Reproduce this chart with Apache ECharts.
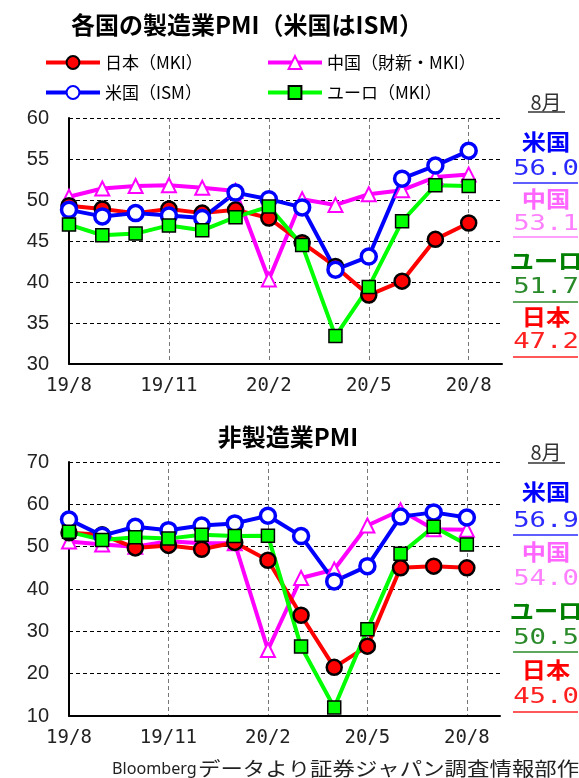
<!DOCTYPE html>
<html>
<head>
<meta charset="utf-8">
<script src="https://cdn.jsdelivr.net/npm/echarts@6/dist/echarts.min.js"></script>
<style>
html,body{margin:0;padding:0;background:#fff;}
#chart{width:579px;height:778px;}
</style>
</head>
<body>
<div id="chart"></div>
<script>
// ---- data ----
const months = ['19/8','19/9','19/10','19/11','19/12','20/1','20/2','20/3','20/4','20/5','20/6','20/7','20/8',''];
const mfgTicks = [30, 35, 40, 45, 50, 55, 60];
const svcTicks = [10, 20, 30, 40, 50, 60, 70];

const seriesNames = ['日本（MKI）', '中国（財新・MKI）', '米国（ISM）', 'ユーロ（MKI）'];

// Manufacturing PMI
const japanMfg = [49.3, 48.9, 48.4, 48.9, 48.4, 48.8, 47.8, 44.8, 41.9, 38.4, 40.1, 45.2, 47.2];
const chinaMfg = [50.4, 51.4, 51.7, 51.8, 51.5, 51.1, 40.3, 50.1, 49.4, 50.7, 51.2, 52.8, 53.1];
const usMfg    = [48.8, 48.0, 48.4, 48.1, 47.8, 50.9, 50.1, 49.1, 41.5, 43.1, 52.6, 54.2, 56.0];
const euroMfg  = [47.0, 45.7, 45.9, 46.9, 46.3, 47.9, 49.2, 44.5, 33.4, 39.4, 47.4, 51.8, 51.7];

// Non-manufacturing PMI
const japanSvc = [53.3, 52.8, 49.7, 50.3, 49.4, 51.0, 46.8, 33.8, 21.5, 26.5, 45.0, 45.4, 45.0];
const chinaSvc = [51.2, 50.5, 50.0, 51.3, 50.8, 50.8, 25.6, 42.6, 44.6, 55.0, 58.6, 54.1, 54.0];
const usSvc    = [56.4, 52.6, 54.7, 53.9, 55.0, 55.5, 57.3, 52.5, 41.8, 45.4, 57.1, 58.1, 56.9];
const euroSvc  = [53.5, 51.6, 52.2, 51.9, 52.8, 52.5, 52.6, 26.4, 12.0, 30.5, 48.3, 54.7, 50.5];

// August side labels
const sideNames = ['米国', '中国', 'ユーロ', '日本'];
const mfgLatest = ['56.0', '53.1', '51.7', '47.2'];
const svcLatest = ['56.9', '54.0', '50.5', '45.0'];

// ---- styling ----
const CJK = '"Noto Sans CJK JP", sans-serif';
const styles = {
  '日本（MKI）': {line:'#ff0000', symbol:'circle', size:15, fill:'#ff0000', border:'#000000', bw:2.5},
  '中国（財新・MKI）': {line:'#ff00ff', symbol:'triangle', size:14, fill:'#ffffff', border:'#ff00ff', bw:2},
  '米国（ISM）': {line:'#0000ff', symbol:'circle', size:15, fill:'#ffffff', border:'#0000ff', bw:3.5},
  'ユーロ（MKI）': {line:'#00ff00', symbol:'rect', size:13, fill:'#00ff00', border:'#000000', bw:1.5}
};
function mkSeries(name, data, idx){
  const s = styles[name];
  return {
    name, type:'line', data, xAxisIndex:idx, yAxisIndex:idx,
    symbol:s.symbol, symbolSize:s.size, showAllSymbol:true,
    lineStyle:{color:s.line, width:4},
    itemStyle:{color:s.fill, borderColor:s.border, borderWidth:s.bw},
    emphasis:{disabled:true}, z:2
  };
}
// draw order: China, Japan, US, Euro (Euro on top)
const series = [
  mkSeries(seriesNames[1], chinaMfg, 0),
  mkSeries(seriesNames[0], japanMfg, 0),
  mkSeries(seriesNames[2], usMfg, 0),
  mkSeries(seriesNames[3], euroMfg, 0),
  mkSeries(seriesNames[1], chinaSvc, 1),
  mkSeries(seriesNames[0], japanSvc, 1),
  mkSeries(seriesNames[2], usSvc, 1),
  mkSeries(seriesNames[3], euroSvc, 1)
];

function xAx(idx){
  return {
    type:'category', gridIndex:idx, data:months, boundaryGap:false,
    axisLine:{lineStyle:{color:'#000', width:2}},
    axisTick:{show:false},
    axisLabel:{interval:2, margin:13, fontSize:19, color:'#222', fontFamily:'"DejaVu Sans Mono", monospace'},
    splitLine:{show:true, interval:2, lineStyle:{type:[4,3], color:'#777', width:1}}
  };
}
function yAx(idx, ticks){
  return {
    type:'value', gridIndex:idx, min:ticks[0], max:ticks[ticks.length-1], interval:ticks[1]-ticks[0],
    axisLine:{show:true, lineStyle:{color:'#000', width:2}},
    axisTick:{show:false},
    axisLabel:{fontSize:20, margin:20, color:'#222', fontFamily:'"Liberation Sans", Arial, sans-serif'},
    splitLine:{lineStyle:{type:[4,3], color:'#000', width:1}}
  };
}

const legendCommon = {
  orient:'horizontal', itemWidth:54, itemHeight:16, itemGap:0, padding:0,
  selectedMode:false,
  lineStyle:{width:4},
  textStyle:{fontSize:17, color:'#000', fontFamily:CJK}
};
const legends = [
  Object.assign({}, legendCommon, {data:[seriesNames[0]], left:44, top:54}),
  Object.assign({}, legendCommon, {data:[seriesNames[1]], left:266, top:54}),
  Object.assign({}, legendCommon, {data:[seriesNames[2]], left:44, top:84}),
  Object.assign({}, legendCommon, {data:[seriesNames[3]], left:266, top:84})
];

const nameColors = ['#0000ff', '#ff66ff', '#008000', '#ff0000'];
const numColors  = ['#2a2aff', '#ff80ff', '#2a8a2a', '#ff2020'];

function sideBlock(ys, values, underlines){
  const g = [];
  const cx = 546;
  g.push({type:'text', x:cx, y:ys.head, style:{text:'8月', fill:'#333', font:'20px '+CJK, align:'center', verticalAlign:'middle'}});
  g.push({type:'line', shape:{x1:528, y1:ys.headLine, x2:565, y2:ys.headLine}, style:{stroke:'#333', lineWidth:1.5}});
  for(let i=0;i<4;i++){
    g.push({type:'text', x:cx, y:ys.names[i], scaleX:1.1,
      style:{text:sideNames[i], fill:nameColors[i], font:'bold 22px '+CJK, align:'center', verticalAlign:'middle'}});
    g.push({type:'text', x:cx, y:ys.nums[i], scaleX:1.3,
      style:{text:values[i], fill:numColors[i], font:'21px "DejaVu Sans Mono", monospace', align:'center', verticalAlign:'middle'}});
    if(underlines[i] !== null){
      g.push({type:'line', shape:{x1:513, y1:underlines[i], x2:578, y2:underlines[i]}, style:{stroke:numColors[i], lineWidth:1.5}});
    }
  }
  return g;
}

const graphic = [
  {type:'text', x:247, y:25, style:{text:'各国の製造業PMI（米国はISM）', fill:'#000', font:'bold 24px '+CJK, align:'center', verticalAlign:'middle'}},
  {type:'text', x:288, y:437, style:{text:'非製造業PMI', fill:'#000', font:'bold 24px '+CJK, align:'center', verticalAlign:'middle'}},
  {type:'text', x:112, y:769, scaleX:0.95, style:{text:'Bloomberg', fill:'#222', font:'17px "Noto Sans", sans-serif', align:'left', verticalAlign:'middle'}},
  {type:'text', x:198, y:769, scaleX:1.18, style:{text:'データより証券ジャパン調査情報部作成', fill:'#222', font:'19px '+CJK, align:'left', verticalAlign:'middle'}}
].concat(
  sideBlock({head:102, headLine:112, names:[142,199,261,317], nums:[170,225,288,343]}, mfgLatest, [183,237,302,357]),
  sideBlock({head:452, headLine:463, names:[492,552,611,670], nums:[522,580,639,698]}, svcLatest, [535,null,652,712])
);

const chart = echarts.init(document.getElementById('chart'), null, {renderer:'canvas'});
chart.setOption({
  animation:false,
  backgroundColor:'#ffffff',
  grid:[
    {left:69, top:118, width:433, height:246},
    {left:69, top:462, width:431, height:254}
  ],
  xAxis:[xAx(0), xAx(1)],
  yAxis:[yAx(0, mfgTicks), yAx(1, svcTicks)],
  legend:legends,
  series:series,
  graphic:graphic
});
</script>
</body>
</html>
